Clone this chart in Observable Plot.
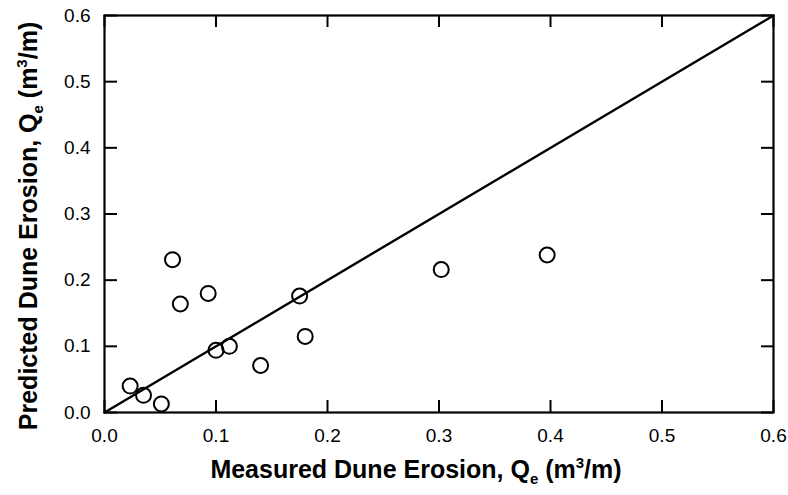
<!DOCTYPE html>
<html>
<head>
<meta charset="utf-8">
<script src="https://cdn.jsdelivr.net/npm/d3@7"></script>
<script src="https://cdn.jsdelivr.net/npm/@observablehq/plot@0.6"></script>
<style>
  html, body { margin: 0; padding: 0; background: white; }
  #chart { width: 788px; height: 495px; }
</style>
</head>
<body>
<div id="chart"></div>
<script>
// ---- data ----
const measured  = [0.023, 0.035, 0.051, 0.061, 0.068, 0.093, 0.100, 0.112, 0.140, 0.175, 0.180, 0.302, 0.397];
const predicted = [0.040, 0.026, 0.013, 0.231, 0.164, 0.180, 0.094, 0.100, 0.071, 0.176, 0.115, 0.216, 0.238];
const xTicks = [0, 0.1, 0.2, 0.3, 0.4, 0.5, 0.6];
const yTicks = [0, 0.1, 0.2, 0.3, 0.4, 0.5, 0.6];
const oneToOneX = [0, 0.6];
const oneToOneY = [0, 0.6];

const points = measured.map((m, i) => ({m, p: predicted[i]}));
const line = oneToOneX.map((x, i) => ({x, y: oneToOneY[i]}));

const W = 788, H = 495;
const mL = 104, mR = 15, mT = 15, mB = 83;
const plotW = W - mL - mR, plotH = H - mT - mB;
const fmt = d3.format(".1f");
const font = "'Liberation Sans', Arial, Helvetica, sans-serif";

const chart = Plot.plot({
  width: W, height: H,
  marginLeft: mL, marginRight: mR, marginTop: mT, marginBottom: mB,
  x: {domain: [0, 0.6], axis: null},
  y: {domain: [0, 0.6], axis: null},
  style: {fontFamily: font, background: "white", color: "black"},
  marks: [
    Plot.text(xTicks, {x: d => d, text: d => fmt(d), frameAnchor: "bottom", lineAnchor: "top", dy: 16, fontSize: 19, fill: "black"}),
    Plot.text(yTicks, {y: d => d, text: d => fmt(d), frameAnchor: "left", textAnchor: "end", dx: -14, fontSize: 19, fill: "black"}),
    Plot.tickX(xTicks, {x: d => d, insetTop: plotH - 12, strokeWidth: 2}),
    Plot.tickX(xTicks, {x: d => d, insetBottom: plotH - 12, strokeWidth: 2}),
    Plot.tickY(yTicks, {y: d => d, insetRight: plotW - 13, strokeWidth: 2}),
    Plot.tickY(yTicks, {y: d => d, insetLeft: plotW - 12, strokeWidth: 2}),
    Plot.line(line, {x: "x", y: "y", stroke: "black", strokeWidth: 2.4}),
    Plot.dot(points, {x: "m", y: "p", r: 7.5, stroke: "black", strokeWidth: 2, fill: "none"}),
    Plot.frame({stroke: "black", strokeWidth: 2.2})
  ]
});

document.getElementById("chart").appendChild(chart);

// axis titles with sub/superscripts
const svg = d3.select(chart);
function title(sel, main) {
  sel.attr("font-family", font).attr("font-weight", "bold").attr("font-size", 25)
     .attr("fill", "black").attr("text-anchor", "middle");
  sel.append("tspan").text(main + ", Q");
  sel.append("tspan").attr("font-size", 15).attr("dy", 6).text("e");
  sel.append("tspan").attr("dy", -6).text(" (m");
  sel.append("tspan").attr("font-size", 15).attr("dy", -10).text("3");
  sel.append("tspan").attr("dy", 10).text("/m)");
}
title(svg.append("text").attr("x", 416).attr("y", 478), "Measured Dune Erosion");
title(svg.append("text").attr("transform", "translate(37,226) rotate(-90)"), "Predicted Dune Erosion");
</script>
</body>
</html>
